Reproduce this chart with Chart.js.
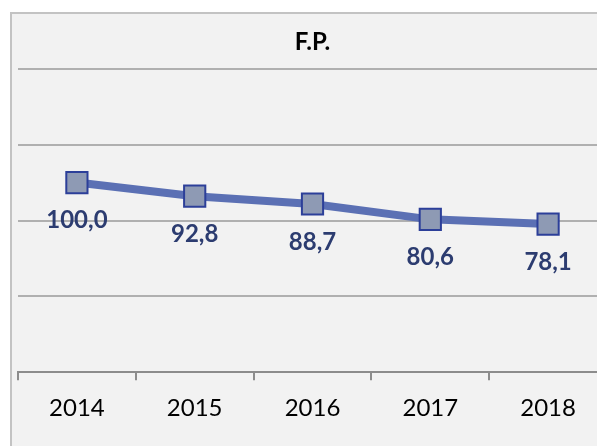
<!DOCTYPE html>
<html>
<head>
<meta charset="utf-8">
<script src="https://cdn.jsdelivr.net/npm/chart.js@4/dist/chart.umd.min.js"></script>
<style>
html,body{margin:0;padding:0;width:597px;height:446px;overflow:hidden;background:#ffffff;}
#box{position:absolute;left:10px;top:12px;width:610px;height:470px;border:2px solid #c3c3c3;background:#f2f2f2;}
canvas{display:block;position:absolute;left:-11px;top:0;}
</style>
</head>
<body>
<div id="box"><canvas id="c" width="623" height="470"></canvas></div>
<script>
const title = "F.P.";
const categories = ["2014", "2015", "2016", "2017", "2018"];
const values = [100.0, 92.8, 88.7, 80.6, 78.1];
const valueLabels = ["100,0", "92,8", "88,7", "80,6", "78,1"];
const yTicks = [0, 40, 80, 120, 160];

const labelPlugin = {
  id: 'valueLabels',
  afterDatasetsDraw(chart) {
    const ctx = chart.ctx;
    const meta = chart.getDatasetMeta(0);
    ctx.save();
    ctx.font = 'bold 24px Lato';
    ctx.fillStyle = '#2c3c70';
    ctx.textAlign = 'center';
    ctx.textBaseline = 'middle';
    meta.data.forEach((pt, i) => {
      ctx.fillText(valueLabels[i], pt.x, pt.y + 38);
    });
    ctx.restore();
  }
};

new Chart(document.getElementById('c'), {
  type: 'line',
  data: {
    labels: categories,
    datasets: [{
      data: values,
      borderColor: '#5b70b4',
      borderWidth: 8,
      tension: 0,
      pointStyle: 'rect',
      pointRadius: 15,
      pointHoverRadius: 15,
      pointBackgroundColor: '#8e9ab4',
      pointBorderColor: '#2c3f99',
      pointBorderWidth: 2,
      clip: false
    }]
  },
  options: {
    responsive: false,
    animation: false,
    events: [],
    layout: { padding: { left: 0, right: 0, top: 0, bottom: 47 } },
    plugins: {
      legend: { display: false },
      tooltip: { enabled: false },
      title: {
        display: true,
        text: title,
        color: '#000000',
        font: { family: 'Lato', size: 24, weight: 'bold' },
        padding: { top: 14, bottom: 12 }
      }
    },
    scales: {
      x: {
        offset: true,
        grid: {
          offset: true,
          drawOnChartArea: false,
          drawTicks: true,
          tickLength: 8,
          color: '#8c8c8c',
          lineWidth: 2
        },
        border: { display: true, color: '#8c8c8c', width: 2 },
        ticks: {
          color: '#000000',
          font: { family: 'Lato', size: 24 },
          padding: 14
        }
      },
      y: {
        min: 0,
        max: 160,
        afterBuildTicks(scale) { scale.ticks = yTicks.map(v => ({ value: v })); },
        afterFit(scale) { scale.width = 0; },
        grid: { color: '#b0b0b0', lineWidth: 2, drawTicks: false },
        border: { display: false },
        ticks: { display: false }
      }
    }
  },
  plugins: [labelPlugin]
});
</script>
</body>
</html>
